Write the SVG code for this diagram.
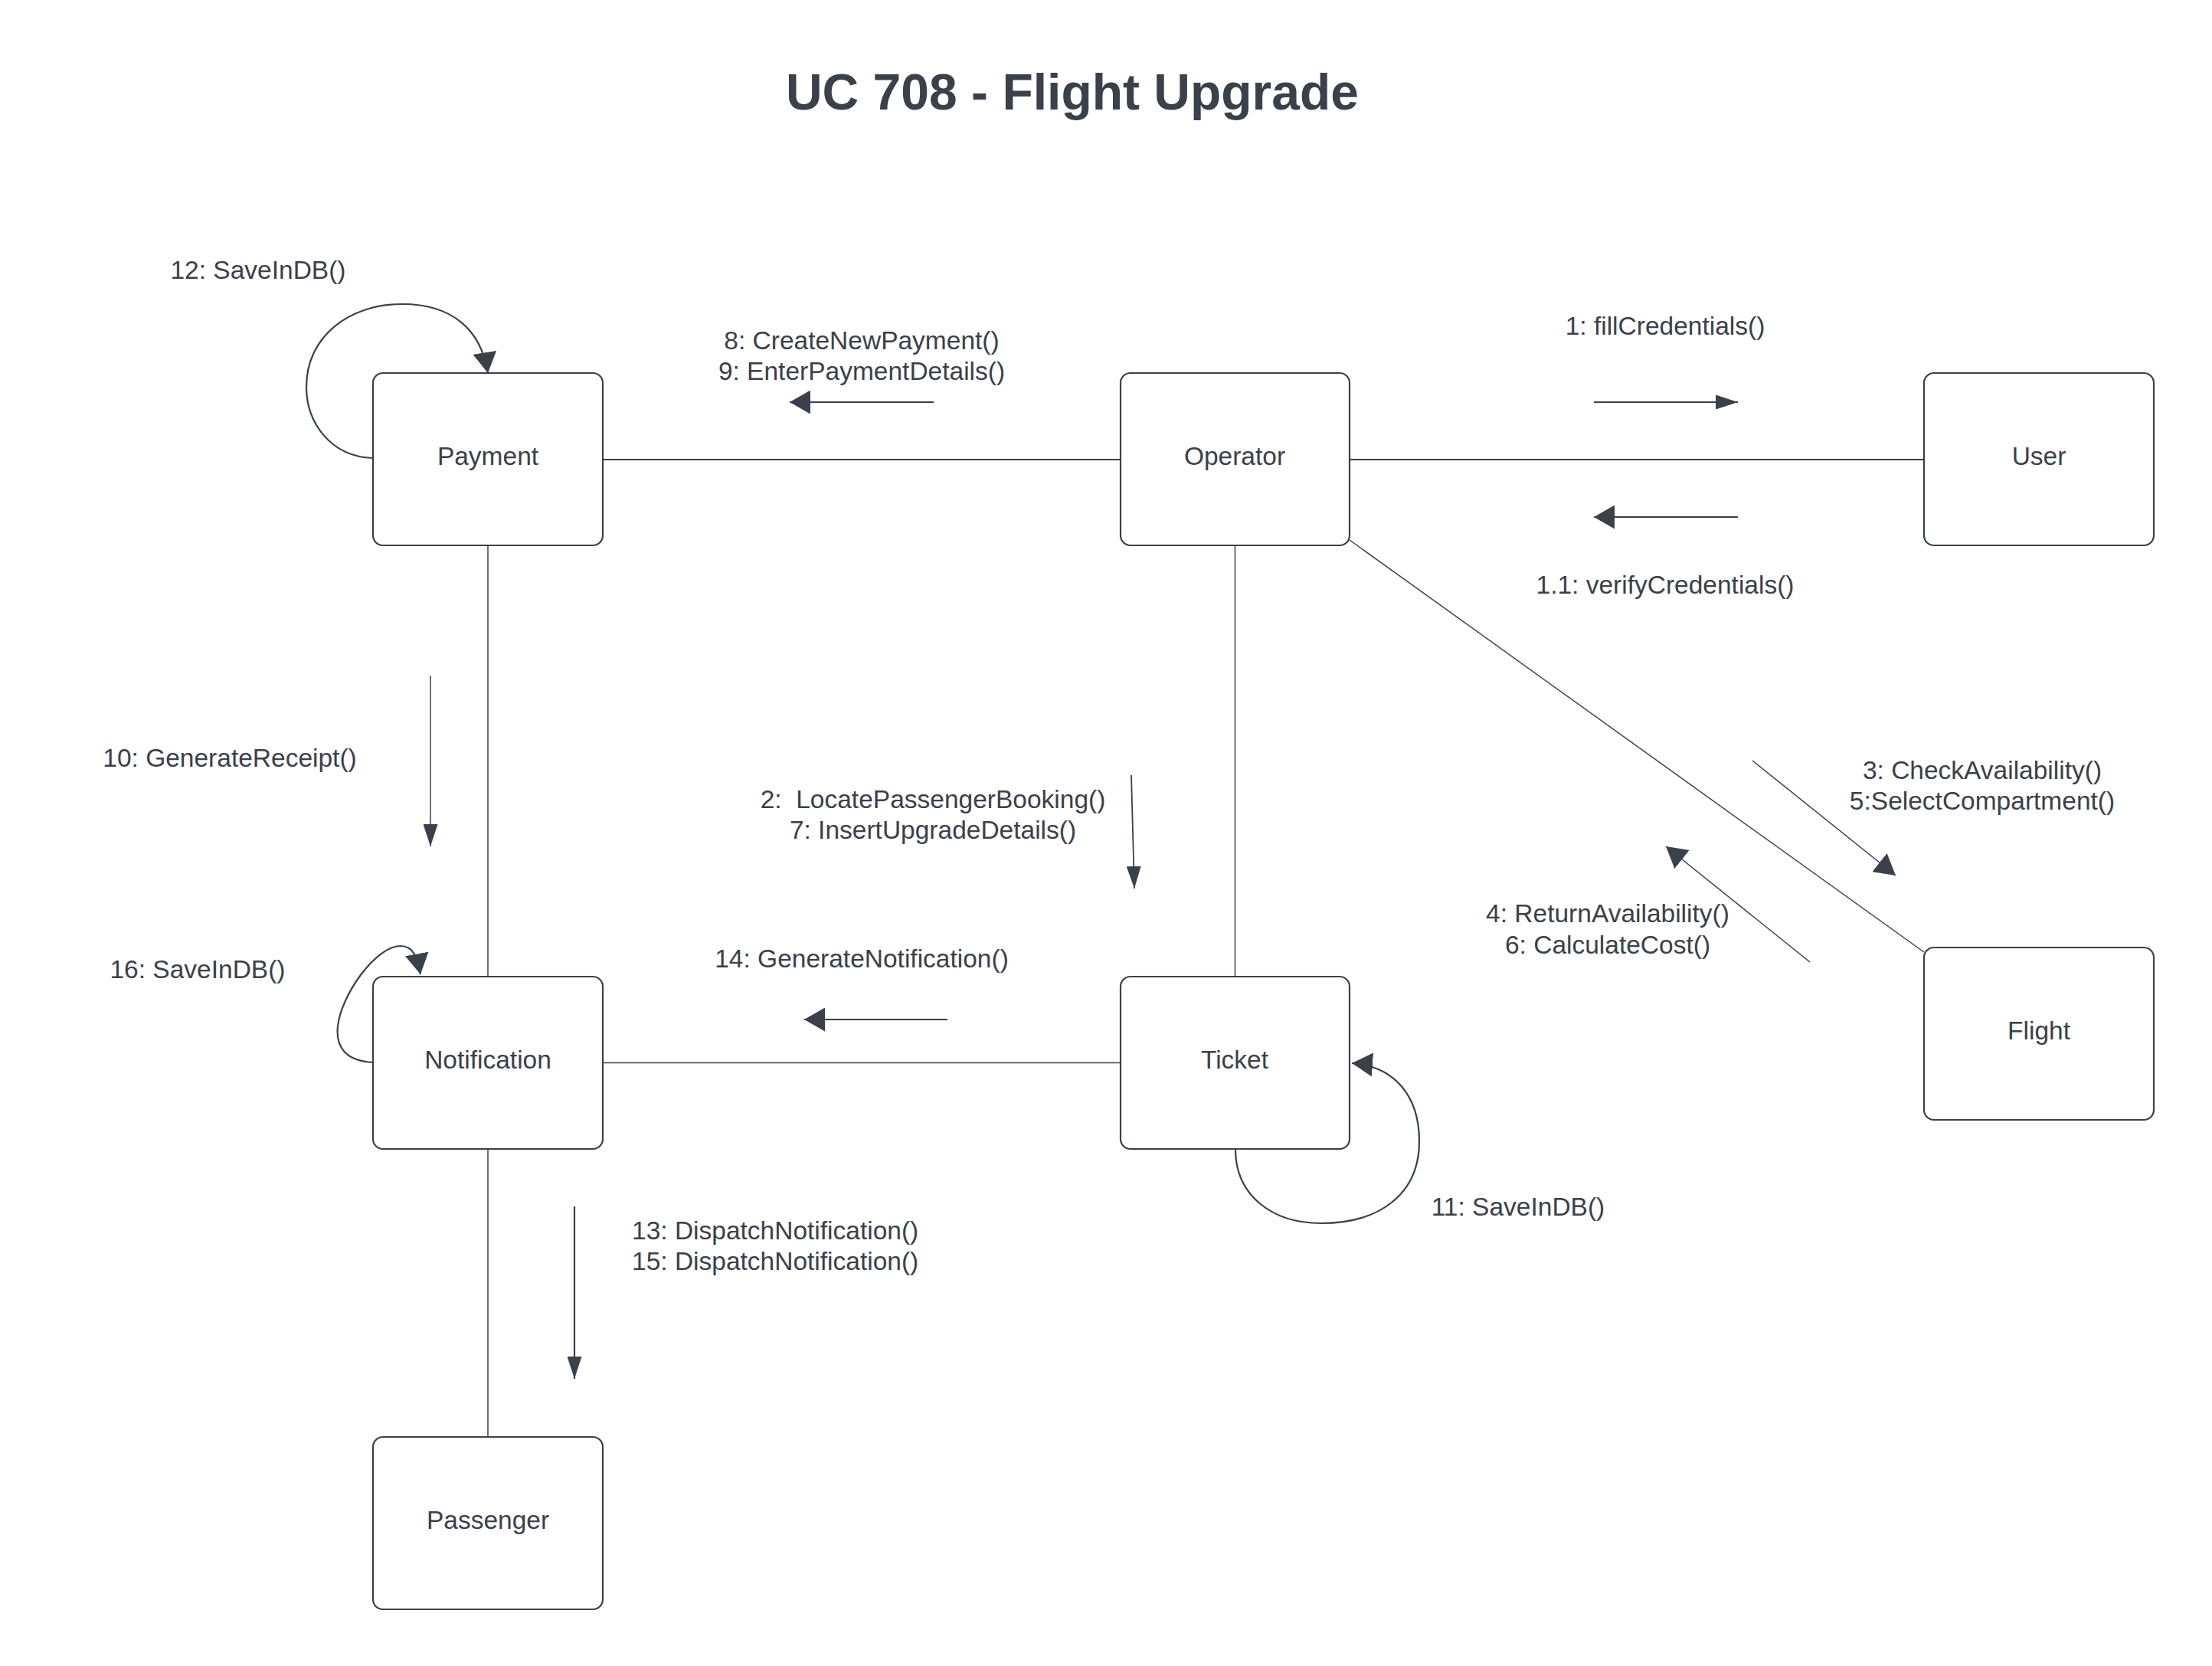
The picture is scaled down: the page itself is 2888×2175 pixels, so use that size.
<svg xmlns="http://www.w3.org/2000/svg" width="2888" height="2175" viewBox="0 0 2888 2175">
<style>
.node rect{fill:#ffffff;stroke:#3a414a;stroke-width:2.2}
.lbl{font-family:"Liberation Sans",Arial,sans-serif;font-size:33.5px;fill:#3a414a}
.c{text-anchor:middle}
.title{font-family:"Liberation Sans",Arial,sans-serif;font-size:66px;font-weight:bold;fill:#3a414a;text-anchor:middle}
.link{stroke:#3a414a;fill:none;stroke-width:2.2}
.thin{stroke:#3a414a;fill:none;stroke-width:1.5}
.msg{stroke:#3a414a;fill:none;stroke-width:2.2}
.msgs{stroke:#3a414a;fill:none;stroke-width:1.8}
</style>
<defs>
<marker id="big" viewBox="0 0 27 31" refX="27" refY="15.5" markerWidth="27" markerHeight="31" markerUnits="userSpaceOnUse" orient="auto">
<path d="M0,0 L27,15.5 L0,31 z" fill="#3a414a"/>
</marker>
<marker id="small" viewBox="0 0 29 19" refX="29" refY="9.5" markerWidth="29" markerHeight="19" markerUnits="userSpaceOnUse" orient="auto">
<path d="M0,0 L29,9.5 L0,19 z" fill="#3a414a"/>
</marker>
</defs>
<rect width="2888" height="2175" fill="#ffffff"/>
<text class="title" x="1400" y="143">UC 708 - Flight Upgrade</text>

<g id="connectors">
<line class="link" x1="787" y1="600" x2="1463" y2="600"/>
<line class="link" x1="1762" y1="600" x2="2512" y2="600"/>
<line class="thin" x1="637" y1="712" x2="637" y2="1275"/>
<line class="thin" x1="1612.5" y1="712" x2="1612.5" y2="1275"/>
<line class="thin" x1="1762" y1="705" x2="2512" y2="1243"/>
<line class="thin" x1="787" y1="1387.5" x2="1463" y2="1387.5"/>
<line class="thin" x1="637" y1="1500" x2="637" y2="1876"/>

<line class="msg" x1="1219" y1="525" x2="1031" y2="525" marker-end="url(#big)"/>
<line class="msgs" x1="2081" y1="525" x2="2269" y2="525" marker-end="url(#small)"/>
<line class="msg" x1="2269" y1="675" x2="2081" y2="675" marker-end="url(#big)"/>
<line class="thin" x1="562" y1="882" x2="562" y2="1105" marker-end="url(#small)"/>
<line class="msgs" x1="1477" y1="1012" x2="1481" y2="1160" marker-end="url(#small)"/>
<line class="thin" x1="2288" y1="993" x2="2475" y2="1143" marker-end="url(#big)"/>
<line class="thin" x1="2363" y1="1256" x2="2175" y2="1105" marker-end="url(#big)"/>
<line class="msg" x1="1237" y1="1331" x2="1050" y2="1331" marker-end="url(#big)"/>
<line class="msg" x1="750" y1="1575" x2="750" y2="1800" marker-end="url(#small)"/>

<path class="link" d="M487,598 C430,596 400,550 400,505 C400,440 455,397 525,397 C590,397 628,430 637,487" marker-end="url(#big)"/>
<path class="link" d="M487,1387 C452,1385 438,1368 441,1340 C445,1300 490,1235 523,1235 C540,1235 545,1250 549,1272" marker-end="url(#big)"/>
<path class="link" d="M1613,1500 C1613,1560 1660,1597 1725,1597 C1800,1597 1853,1560 1853,1490 C1853,1430 1820,1392 1765,1388" marker-end="url(#big)"/>
</g>

<g id="payment" class="node"><rect x="487" y="487" width="300" height="225" rx="13"/><text class="lbl c" x="637" y="607">Payment</text></g>
<g id="operator" class="node"><rect x="1463" y="487" width="299" height="225" rx="13"/><text class="lbl c" x="1612" y="607">Operator</text></g>
<g id="user" class="node"><rect x="2512" y="487" width="300" height="225" rx="13"/><text class="lbl c" x="2662" y="607">User</text></g>
<g id="flight" class="node"><rect x="2512" y="1237" width="300" height="225" rx="13"/><text class="lbl c" x="2662" y="1357">Flight</text></g>
<g id="notification" class="node"><rect x="487" y="1275" width="300" height="225" rx="13"/><text class="lbl c" x="637" y="1395">Notification</text></g>
<g id="ticket" class="node"><rect x="1463" y="1275" width="299" height="225" rx="13"/><text class="lbl c" x="1612" y="1395">Ticket</text></g>
<g id="passenger" class="node"><rect x="487" y="1876" width="300" height="225" rx="13"/><text class="lbl c" x="637" y="1996">Passenger</text></g>

<g id="labels">
<text class="lbl c" x="337" y="364">12: SaveInDB()</text>
<text class="lbl c" x="1125" y="456">8: CreateNewPayment()</text>
<text class="lbl c" x="1125" y="496">9: EnterPaymentDetails()</text>
<text class="lbl c" x="2174" y="437">1: fillCredentials()</text>
<text class="lbl c" x="2174" y="775">1.1: verifyCredentials()</text>
<text class="lbl c" x="300" y="1001">10: GenerateReceipt()</text>
<text class="lbl c" x="1218" y="1055" style="white-space:pre">2:  LocatePassengerBooking()</text>
<text class="lbl c" x="1218" y="1095">7: InsertUpgradeDetails()</text>
<text class="lbl c" x="2588" y="1017">3: CheckAvailability()</text>
<text class="lbl c" x="2588" y="1057">5:SelectCompartment()</text>
<text class="lbl c" x="2099" y="1204">4: ReturnAvailability()</text>
<text class="lbl c" x="2099" y="1245">6: CalculateCost()</text>
<text class="lbl c" x="1125" y="1263">14: GenerateNotification()</text>
<text class="lbl c" x="258" y="1277">16: SaveInDB()</text>
<text class="lbl c" x="1982" y="1587">11: SaveInDB()</text>
<text class="lbl" x="825" y="1618">13: DispatchNotification()</text>
<text class="lbl" x="825" y="1658">15: DispatchNotification()</text>
</g>
</svg>
